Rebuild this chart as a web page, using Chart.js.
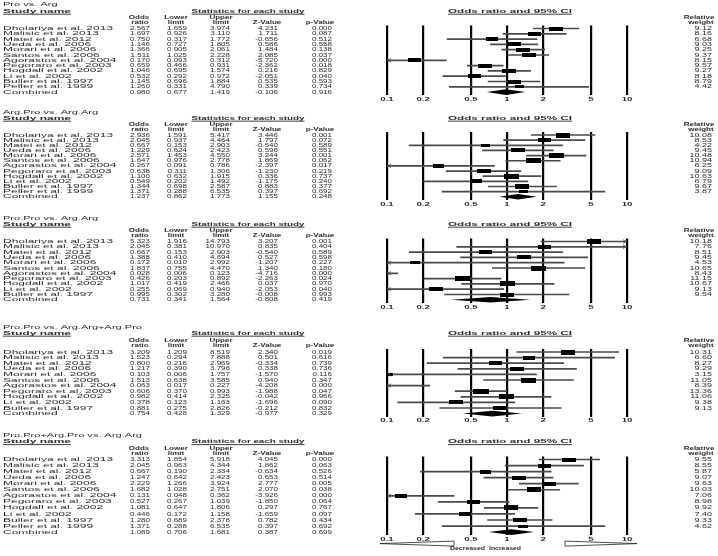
<!DOCTYPE html>
<html>
<head>
<meta charset="utf-8">
<script src="https://cdn.jsdelivr.net/npm/chart.js"></script>
<style>
  body { margin: 0; background: #fff; }
  #wrap { position: relative; width: 718px; height: 556px; }
  #wrap canvas { position: absolute; left: 0; top: 0; }
</style>
</head>
<body>
<div id="wrap"></div>
<script>
// study names
const namesA = ["Dholariya et al. 2013", "Malisic et al. 2013", "Matei et al. 2012", "Ueda et al. 2006",
  "Morari et al. 2006", "Santos et al. 2006", "Agorastos et al. 2004", "Pegoraro et al. 2003",
  "Hogdall et al. 2002", "Li et al. 2002", "Buller et al. 1997", "Peller et al. 1999", "Combined"];
const namesB = ["Dholariya et al. 2013", "Malisic et al. 2013", "Matei et al. 2012", "Ueda et al. 2006",
  "Morari et al. 2006", "Santos et al. 2006", "Agorastos et al. 2004", "Pegoraro et al. 2003",
  "Hogdall et al. 2002", "Li et al. 2002", "Buller et al. 1997", "Combined"];

const axisTicks = [0.1, 0.2, 0.5, 1, 2, 5, 10];
const tickLabels = ["0.1", "0.2", "0.5", "1", "2", "5", "10"];

// Pro vs. Arg
const p1Title = "Pro vs. Arg";
const p1Or = [2.567, 1.697, 0.750, 1.146, 1.366, 1.511, 0.170, 0.659, 1.046, 0.532, 1.145, 1.260, 0.980];
const p1Lo = [1.659, 0.926, 0.317, 0.727, 0.905, 1.025, 0.093, 0.466, 0.695, 0.292, 0.696, 0.331, 0.677];
const p1Hi = [3.974, 3.110, 1.772, 1.805, 2.061, 2.228, 0.312, 0.931, 1.574, 0.972, 1.884, 4.790, 1.419];
const p1Z = [4.231, 1.711, -0.656, 0.586, 1.484, 2.085, -5.720, -2.362, 0.216, -2.051, 0.535, 0.339, -0.106];
const p1P = [0.000, 0.087, 0.512, 0.558, 0.138, 0.037, 0.000, 0.018, 0.829, 0.040, 0.593, 0.734, 0.916];
const p1W = [9.12, 8.16, 6.68, 9.03, 9.25, 9.37, 8.15, 9.57, 9.27, 8.18, 8.79, 4.42];

// Arg.Pro vs. Arg.Arg
const p2Title = "Arg.Pro vs. Arg.Arg";
const p2Or = [2.936, 2.045, 0.667, 1.229, 2.571, 1.647, 0.267, 0.638, 1.100, 0.549, 1.344, 1.371, 1.237];
const p2Lo = [1.591, 0.937, 0.153, 0.624, 1.453, 0.976, 0.091, 0.311, 0.632, 0.202, 0.698, 0.288, 0.862];
const p2Hi = [5.417, 4.464, 2.903, 2.423, 4.550, 2.778, 0.786, 1.306, 1.915, 1.492, 2.587, 6.535, 1.773];
const p2Z = [3.446, 1.797, -0.540, 0.596, 3.244, 1.869, -2.397, -1.230, 0.336, -1.175, 0.883, 0.397, 1.155];
const p2P = [0.001, 0.072, 0.589, 0.551, 0.001, 0.062, 0.017, 0.219, 0.737, 0.240, 0.377, 0.692, 0.248];
const p2W = [10.08, 8.53, 4.22, 9.45, 10.48, 10.94, 6.25, 9.09, 10.63, 6.79, 9.67, 3.87];

// Pro.Pro vs. Arg.Arg
const p3Title = "Pro.Pro vs. Arg.Arg";
const p3Or = [5.323, 2.045, 0.667, 1.388, 0.172, 1.837, 0.028, 0.426, 1.017, 0.255, 0.995, 0.731];
const p3Lo = [1.916, 0.381, 0.153, 0.410, 0.010, 0.755, 0.006, 0.203, 0.419, 0.069, 0.302, 0.341];
const p3Hi = [14.793, 10.970, 2.903, 4.694, 2.992, 4.470, 0.123, 0.892, 2.466, 0.940, 3.280, 1.564];
const p3Z = [3.207, 0.835, -0.540, 0.527, -1.207, 1.340, -4.716, -2.263, 0.037, -2.053, -0.008, -0.808];
const p3P = [0.001, 0.404, 0.589, 0.598, 0.227, 0.180, 0.000, 0.024, 0.970, 0.040, 0.993, 0.419];
const p3W = [10.18, 7.76, 8.51, 9.45, 4.53, 10.65, 8.43, 11.15, 10.67, 9.13, 9.54];

// Pro.Pro vs. Arg.Arg+Arg.Pro
const p4Title = "Pro.Pro vs. Arg.Arg+Arg.Pro";
const p4Or = [3.209, 1.523, 0.800, 1.217, 0.103, 1.513, 0.063, 0.606, 0.982, 0.378, 0.881, 0.754];
const p4Lo = [1.209, 0.294, 0.216, 0.390, 0.006, 0.638, 0.017, 0.370, 0.414, 0.123, 0.275, 0.428];
const p4Hi = [8.519, 7.888, 2.969, 3.796, 1.757, 3.585, 0.227, 0.993, 2.325, 1.163, 2.826, 1.329];
const p4Z = [2.340, 0.501, -0.334, 0.338, -1.570, 0.940, -4.208, -1.988, -0.042, -1.696, -0.212, -0.977];
const p4P = [0.019, 0.616, 0.739, 0.736, 0.116, 0.347, 0.000, 0.047, 0.966, 0.090, 0.832, 0.329];
const p4W = [10.31, 6.60, 8.27, 9.29, 3.15, 11.05, 8.39, 13.36, 11.06, 9.38, 9.13];

// Pro.Pro+Arg.Pro vs. Arg.Arg
const p5Title = "Pro.Pro+Arg.Pro vs. Arg.Arg";
const p5Or = [3.313, 2.045, 0.667, 1.247, 2.229, 1.682, 0.131, 0.527, 1.081, 0.446, 1.280, 1.371, 1.089];
const p5Lo = [1.854, 0.963, 0.190, 0.642, 1.266, 1.028, 0.048, 0.267, 0.647, 0.172, 0.689, 0.288, 0.706];
const p5Hi = [5.918, 4.344, 2.334, 2.423, 3.924, 2.751, 0.362, 1.039, 1.806, 1.158, 2.378, 6.535, 1.681];
const p5Z = [4.045, 1.862, -0.634, 0.653, 2.777, 2.070, -3.926, -1.850, 0.297, -1.659, 0.782, 0.397, 0.387];
const p5P = [0.000, 0.063, 0.526, 0.514, 0.005, 0.038, 0.000, 0.064, 0.767, 0.097, 0.434, 0.692, 0.699];
const p5W = [9.55, 8.55, 5.87, 9.07, 9.63, 10.03, 7.06, 8.98, 9.92, 7.40, 9.33, 4.62];

const panels = [
  { title: p1Title, names: namesA, or: p1Or, lo: p1Lo, hi: p1Hi, z: p1Z, p: p1P, w: p1W },
  { title: p2Title, names: namesA, or: p2Or, lo: p2Lo, hi: p2Hi, z: p2Z, p: p2P, w: p2W },
  { title: p3Title, names: namesB, or: p3Or, lo: p3Lo, hi: p3Hi, z: p3Z, p: p3P, w: p3W },
  { title: p4Title, names: namesB, or: p4Or, lo: p4Lo, hi: p4Hi, z: p4Z, p: p4P, w: p4W },
  { title: p5Title, names: namesA, or: p5Or, lo: p5Lo, hi: p5Hi, z: p5Z, p: p5P, w: p5W },
];

// page geometry of each block (y of title, header lines, first row, row step)
const geo = [
  { title: 4.5, h1: 11, h2: 17, h3: 22, row0: 28.5, step: 5.3 },
  { title: 112, h1: 118, h2: 124.5, h3: 129, row0: 135, step: 5.15 },
  { title: 218, h1: 224, h2: 230, h3: 235, row0: 241.5, step: 5.3 },
  { title: 327, h1: 333, h2: 340, h3: 345, row0: 352, step: 5.6 },
  { title: 435.5, h1: 441.5, h2: 448, h3: 453.5, row0: 459.5, step: 6.05 },
];

const W = 718, H = 556;
const FONT = '"Liberation Sans", Arial, Helvetica, sans-serif';
const INK = "#2a2a2a";

function drawText(ctx, s, x, y, o) {
  o = o || {};
  ctx.save();
  ctx.font = (o.bold ? "bold " : "") + (o.size || 8) + "px " + FONT;
  const mw = ctx.measureText(s).width;
  const k = o.width ? o.width / mw : (o.sx || 1);
  ctx.fillStyle = INK;
  ctx.textAlign = o.align || "left";
  ctx.textBaseline = "middle";
  ctx.translate(x, y);
  ctx.scale(k, o.sy || 0.72);
  ctx.fillText(s, 0, 0);
  ctx.restore();
  if (o.underline) {
    const w = mw * k;
    const x0 = o.align === "center" ? x - w / 2 : o.align === "right" ? x - w : x;
    ctx.fillStyle = INK;
    ctx.fillRect(x0, y + 2.7, w, 0.9);
  }
}

function boxImage(weight) {
  const c = document.createElement("canvas");
  c.width = Math.round(4.5 * Math.sqrt(weight));
  c.height = Math.max(2, Math.round(1.45 * Math.sqrt(weight)));
  const g = c.getContext("2d");
  g.fillStyle = "#000";
  g.fillRect(0, 0, c.width, c.height);
  return c;
}

const wrap = document.getElementById("wrap");

panels.forEach((pn, k) => {
  const g = geo[k];
  const n = pn.names.length;
  const ns = n - 1;
  const areaTop = g.row0 - 3;
  const areaBottom = g.row0 + (n - 1) * g.step + 3;

  const canvas = document.createElement("canvas");
  canvas.width = W;
  canvas.height = H;
  wrap.appendChild(canvas);

  const ciData = [];
  const boxData = [];
  const boxStyles = [];
  for (let i = 0; i < ns; i++) {
    ciData.push({ y: i, x: [pn.lo[i], pn.hi[i]] });
    boxData.push({ x: pn.or[i], y: i });
    boxStyles.push(boxImage(pn.w[i]));
  }

  const forestPlugin = {
    id: "forest" + k,
    afterDatasetsDraw(chart) {
      const ctx = chart.ctx;
      const xs = chart.scales.x, ys = chart.scales.y;
      const xMin = xs.getPixelForValue(0.1), xMax = xs.getPixelForValue(10);
      ctx.save();
      ctx.strokeStyle = "#444";
      ctx.lineWidth = 0.8;
      // arrows for intervals running past the axis
      for (let i = 0; i < ns; i++) {
        const y = ys.getPixelForValue(i);
        if (pn.lo[i] < 0.1 && pn.hi[i] > 0.1) {
          ctx.beginPath();
          ctx.moveTo(xMin + 4, y - 1.8);
          ctx.lineTo(xMin + 1, y);
          ctx.lineTo(xMin + 4, y + 1.8);
          ctx.stroke();
        }
        if (pn.hi[i] > 10) {
          ctx.beginPath();
          ctx.moveTo(xMax - 4, y - 1.8);
          ctx.lineTo(xMax - 1, y);
          ctx.lineTo(xMax - 4, y + 1.8);
          ctx.stroke();
        }
      }
      // combined diamond
      const c = n - 1;
      const yc = ys.getPixelForValue(c);
      ctx.fillStyle = "#000";
      ctx.beginPath();
      ctx.moveTo(xs.getPixelForValue(pn.lo[c]), yc);
      ctx.lineTo(xs.getPixelForValue(pn.or[c]), yc - 2.8);
      ctx.lineTo(xs.getPixelForValue(pn.hi[c]), yc);
      ctx.lineTo(xs.getPixelForValue(pn.or[c]), yc + 2.8);
      ctx.closePath();
      ctx.fill();
      ctx.restore();
    },
    afterDraw(chart) {
      const ctx = chart.ctx;
      const xs = chart.scales.x, ys = chart.scales.y;
      // headings
      drawText(ctx, pn.title, 3, g.title, { sx: 1.38 });
      drawText(ctx, "Study name", 3, g.h1, { bold: true, width: 68, underline: true });
      drawText(ctx, "Statistics for each study", 248, g.h1, { bold: true, width: 113, align: "center", underline: true });
      drawText(ctx, "Odds ratio and 95% CI", 510, g.h1, { bold: true, width: 124, align: "center", underline: true });
      drawText(ctx, "Odds", 139, g.h2, { bold: true, align: "center" });
      drawText(ctx, "ratio", 140, g.h3, { bold: true, align: "center" });
      drawText(ctx, "Lower", 176, g.h2, { bold: true, align: "center" });
      drawText(ctx, "limit", 176, g.h3, { bold: true, align: "center" });
      drawText(ctx, "Upper", 221, g.h2, { bold: true, align: "center" });
      drawText(ctx, "limit", 221, g.h3, { bold: true, align: "center" });
      drawText(ctx, "Z-Value", 267, g.h3, { bold: true, align: "center" });
      drawText(ctx, "p-Value", 320, g.h3, { bold: true, align: "center" });
      drawText(ctx, "Relative", 699, g.h2, { bold: true, align: "center" });
      drawText(ctx, "weight", 701, g.h3, { bold: true, align: "center" });

      // table rows
      for (let i = 0; i < n; i++) {
        const y = ys.getPixelForValue(i);
        drawText(ctx, pn.names[i], 3, y, { sx: 1.5 });
        drawText(ctx, pn.or[i].toFixed(3), 150, y, { align: "right" });
        drawText(ctx, pn.lo[i].toFixed(3), 187, y, { align: "right" });
        drawText(ctx, pn.hi[i].toFixed(3), 230, y, { align: "right" });
        drawText(ctx, pn.z[i].toFixed(3), 278, y, { align: "right" });
        drawText(ctx, pn.p[i].toFixed(3), 332, y, { align: "right" });
        if (i < ns) drawText(ctx, pn.w[i].toFixed(2), 712, y, { align: "right", sx: 1.12 });
      }

      // axis labels
      const ty = chart.chartArea.bottom + 4.2;
      axisTicks.forEach((v, j) => {
        drawText(ctx, tickLabels[j], xs.getPixelForValue(v), ty, { align: "center", sx: 1.2, bold: true });
      });

      if (k === panels.length - 1) {
        const yb = chart.chartArea.bottom + 8.5;
        const xl = xs.getPixelForValue(0.1) - 7;
        const xr = xs.getPixelForValue(10) + 10;
        const x1 = xs.getPixelForValue(1);
        ctx.save();
        ctx.strokeStyle = "#222";
        ctx.lineWidth = 0.8;
        ctx.beginPath();
        ctx.moveTo(xl, yb);
        ctx.lineTo(x1 - 53, yb - 2.5);
        ctx.lineTo(x1 - 53, yb + 2.5);
        ctx.closePath();
        ctx.stroke();
        ctx.beginPath();
        ctx.moveTo(xr, yb);
        ctx.lineTo(x1 + 58, yb - 2.5);
        ctx.lineTo(x1 + 58, yb + 2.5);
        ctx.closePath();
        ctx.stroke();
        ctx.restore();
        drawText(ctx, "Decreased", x1 - 22, yb + 4.5, { bold: true, align: "right", width: 35 });
        drawText(ctx, "Increased", x1 - 18, yb + 4.5, { bold: true, align: "left", width: 32 });
      }
    },
  };

  new Chart(canvas, {
    type: "bar",
    data: {
      datasets: [
        {
          type: "scatter",
          data: boxData,
          pointStyle: boxStyles,
          pointRadius: 3,
          order: 0,
        },
        {
          type: "bar",
          data: ciData,
          indexAxis: "y",
          backgroundColor: "#4a4a4a",
          borderWidth: 0,
          barThickness: 1,
          order: 1,
        },
      ],
    },
    options: {
      responsive: false,
      animation: false,
      indexAxis: "y",
      layout: { padding: { left: 387, right: W - 627, top: areaTop, bottom: H - areaBottom } },
      plugins: { legend: { display: false }, tooltip: { enabled: false } },
      scales: {
        x: {
          type: "logarithmic",
          min: 0.1,
          max: 10,
          afterBuildTicks: (axis) => {
            axis.ticks = axisTicks.map((v) => ({ value: v }));
          },
          grid: { color: "#000", lineWidth: 2.2, drawTicks: false },
          border: { display: false },
          ticks: { display: false },
        },
        y: {
          type: "linear",
          reverse: true,
          offset: false,
          min: -3 / g.step,
          max: n - 1 + 3 / g.step,
          display: false,
        },
      },
    },
    plugins: [forestPlugin],
  });
});
</script>
</body>
</html>
